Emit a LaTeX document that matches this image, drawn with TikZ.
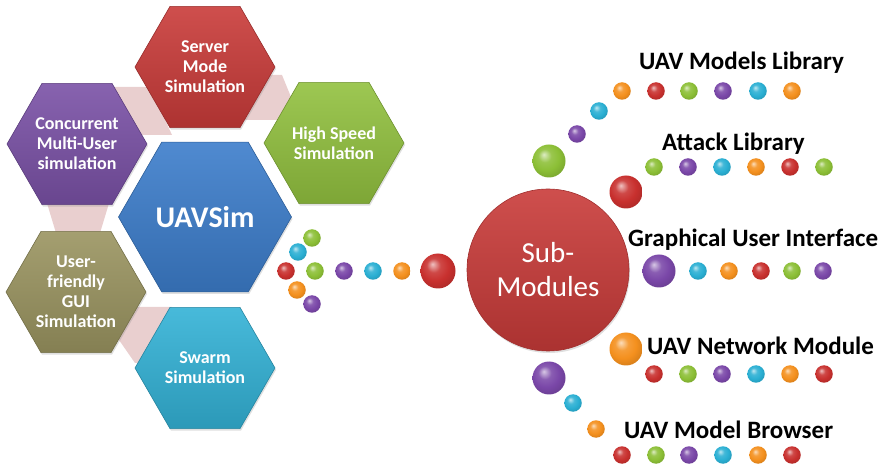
\documentclass[tikz,border=0pt]{standalone}
\usepackage{fontspec}
\setmainfont{Carlito}
\usetikzlibrary{shapes.geometric,shadows}
\makeatletter
\pgfdeclareradialshading[tikz@ball]{ball}{\pgfqpoint{-8bp}{10bp}}{color(0bp)=(tikz@ball!30!white); color(10bp)=(tikz@ball!88!white); color(20bp)=(tikz@ball); color(30bp)=(tikz@ball!88!black); color(50bp)=(tikz@ball!65!black)}
\makeatother
\definecolor{hred}{HTML}{C93B39}
\definecolor{hpurple}{HTML}{7A51A6}
\definecolor{hgreen}{HTML}{92C13F}
\definecolor{hblue}{HTML}{3C7DCB}
\definecolor{holive}{HTML}{9A9460}
\definecolor{hcyan}{HTML}{33B2D6}
\definecolor{bandpink}{HTML}{E9CFCF}
\definecolor{dred}{HTML}{C8302E}
\definecolor{dgreen}{HTML}{8CBF36}
\definecolor{dpurple}{HTML}{7A47A8}
\definecolor{dcyan}{HTML}{2AAFD3}
\definecolor{dorange}{HTML}{F4901E}
\tikzset{
  hexa/.style={regular polygon, regular polygon sides=6, minimum size=140pt,
    inner sep=0pt, draw=#1!75!black, line width=0.6pt,
    top color=#1!90!white, bottom color=#1!86!black,
    drop shadow={opacity=0.25, shadow xshift=1pt, shadow yshift=-2pt},
    text=white, align=center, font=\bfseries\fontsize{18}{20}\selectfont},
  band/.style={fill=bandpink, draw=none},
  ball/.style={circle, inner sep=0pt, minimum size=17.5pt, shade, ball color=#1},
  bigball/.style={circle, inner sep=0pt, minimum size=33pt, shade, ball color=#1},
  lbl/.style={font=\bfseries\fontsize{25}{28}\selectfont, text=black, inner sep=0pt, anchor=west}
}
\begin{document}
\begin{tikzpicture}[x=1pt,y=-1pt]
\useasboundingbox (0,0) rectangle (884,470);
% pink bands behind hexagons
\fill[band] (114,87) -- (150,87) -- (172,135) -- (140,135) -- cycle;
\fill[band] (258,75) -- (282,75) -- (291,97) -- (280,120) -- (245,120) -- cycle;
\fill[band] (46,200) -- (110,200) -- (100,233) -- (56,233) -- cycle;
\fill[band] (127,307) -- (172,307) -- (152,363) -- (135,363) -- (119,340) -- cycle;
% hexagons
\node[hexa=hred] (server) at (205,67) {Server\\Mode\\Simulation};
\node[hexa=hpurple] (concurrent) at (77,144) {Concurrent\\Multi-User\\simulation};
\node[hexa=hgreen] (highspeed) at (334,143) {High Speed\\Simulation};
\node[hexa=holive] (gui) at (76,292) {User-\\friendly\\GUI\\Simulation};
\node[hexa=hcyan] (swarm) at (205,368) {Swarm\\Simulation};
\node[hexa=hblue, minimum size=173pt, font=\bfseries\fontsize{30}{36}\selectfont] (uavsim) at (205,217) {UAVSim};
% left dot cluster
\node[ball=dgreen] (l1) at (312,238) {};
\node[ball=dcyan] (l2) at (298,252) {};
\node[ball=dred] (l3) at (286,271) {};
\node[ball=dgreen] (l4) at (315,271) {};
\node[ball=dpurple] (l5) at (344,271) {};
\node[ball=dcyan] (l6) at (373,271) {};
\node[ball=dorange] (l7) at (402,271) {};
\node[ball=dorange] (l8) at (297,290) {};
\node[ball=dpurple] (l9) at (312,304) {};
\node[bigball=dred, minimum size=35pt] (l10) at (438,271) {};
% Sub-Modules
\node[circle, minimum size=162pt, inner sep=0pt, draw=hred!80!black, line width=0.6pt,
  top color=hred!90!white, bottom color=hred!85!black, text=white, align=center,
  font=\fontsize{29}{34}\selectfont,
  drop shadow={opacity=0.25, shadow xshift=1pt, shadow yshift=-2pt}] (sub) at (548,270) {Sub-\\Modules};
% UAV Models Library
\node[bigball=dgreen] (a0) at (549,161) {};
\node[ball=dpurple] (a1) at (577,134) {};
\node[ball=dcyan] (a2) at (599,111) {};
\node[ball=dorange] (a3) at (622,91) {};
\node[ball=dred] (a4) at (656,91) {};
\node[ball=dgreen] (a5) at (689,91) {};
\node[ball=dpurple] (a6) at (723,91) {};
\node[ball=dcyan] (a7) at (758,91) {};
\node[ball=dorange] (a8) at (792,91) {};
\node[lbl] (la) at (639,63) {UAV Models Library};
% Attack Library
\node[bigball=dred] (b0) at (626,192) {};
\node[ball=dgreen] (b1) at (654,167) {};
\node[ball=dpurple] (b2) at (688,167) {};
\node[ball=dcyan] (b3) at (722,167) {};
\node[ball=dorange] (b4) at (756,167) {};
\node[ball=dred] (b5) at (790,167) {};
\node[ball=dgreen] (b6) at (824,167) {};
\node[lbl] (lb) at (662,144) {Attack Library};
% Graphical User Interface
\node[bigball=dpurple] (c0) at (659,271) {};
\node[ball=dcyan] (c1) at (698,271) {};
\node[ball=dorange] (c2) at (729,271) {};
\node[ball=dred] (c3) at (761,271) {};
\node[ball=dgreen] (c4) at (792,271) {};
\node[ball=dpurple] (c5) at (823,271) {};
\node[lbl] (lc) at (628,240) {Graphical User Interface};
% UAV Network Module
\node[bigball=dorange] (d0) at (626,349) {};
\node[ball=dred] (d1) at (654,374) {};
\node[ball=dgreen] (d2) at (688,374) {};
\node[ball=dpurple] (d3) at (722,374) {};
\node[ball=dcyan] (d4) at (756,374) {};
\node[ball=dorange] (d5) at (790,374) {};
\node[ball=dred] (d6) at (824,374) {};
\node[lbl] (ld) at (647,346) {UAV Network Module};
% UAV Model Browser
\node[bigball=dpurple] (e0) at (549,378) {};
\node[ball=dcyan] (e1) at (573,403) {};
\node[ball=dorange] (e2) at (596,429) {};
\node[ball=dred] (e3) at (622,455) {};
\node[ball=dgreen] (e4) at (656,455) {};
\node[ball=dpurple] (e5) at (689,455) {};
\node[ball=dcyan] (e6) at (723,455) {};
\node[ball=dorange] (e7) at (758,455) {};
\node[ball=dred] (e8) at (792,455) {};
\node[lbl] (le) at (624,430) {UAV Model Browser};
\end{tikzpicture}
\end{document}
